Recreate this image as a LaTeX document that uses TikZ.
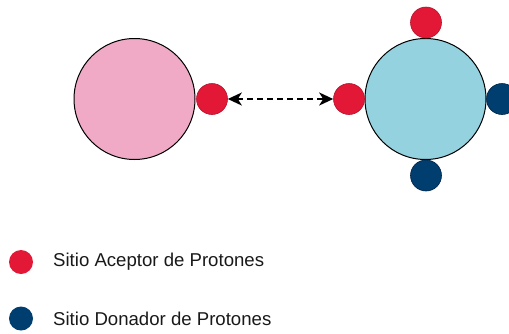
\documentclass[tikz,border=0pt]{standalone}
\usepackage{fontspec}
\setmainfont{Liberation Sans}
\usetikzlibrary{arrows.meta}
\definecolor{pinkc}{RGB}{240,170,198}
\definecolor{bluec}{RGB}{148,210,224}
\definecolor{redc}{RGB}{226,24,54}
\definecolor{redo}{RGB}{180,20,45}
\definecolor{navyc}{RGB}{0,62,112}
\definecolor{navyo}{RGB}{0,35,70}
\tikzset{
  big/.style={circle, draw=black, line width=1pt, minimum size=121pt, inner sep=0pt},
  acc/.style={circle, fill=redc, draw=redo, line width=0.6pt, minimum size=31pt, inner sep=0pt},
  don/.style={circle, fill=navyc, draw=navyo, line width=0.6pt, minimum size=31pt, inner sep=0pt},
  legacc/.style={circle, fill=redc, minimum size=24pt, inner sep=0pt},
  legdon/.style={circle, fill=navyc, minimum size=24pt, inner sep=0pt},
  legtext/.style={anchor=west, inner sep=0pt, font=\fontsize{18.6pt}{22pt}\selectfont, text=black!90},
  link/.style={dash pattern=on 6pt off 4pt, line width=2.2pt, {Stealth[length=14pt,width=13pt,inset=4pt]}-{Stealth[length=14pt,width=13pt,inset=4pt]}}
}
\begin{document}
\begin{tikzpicture}[x=1pt,y=-1pt]
\useasboundingbox (0,0) rectangle (509,333);
\node[big, fill=pinkc] (pink) at (134.5,99) {};
\node[big, fill=bluec] (blue) at (425.5,99) {};
\node[acc] (a1) at (212,99) {};
\node[acc] (a2) at (349,99) {};
\node[acc] (a3) at (426,22.5) {};
\node[don] (d1) at (426,175.5) {};
\node[don] (d2) at (502,99) {};
\draw[link] (a1) -- (a2);
\node[legacc] (la) at (21,262) {};
\node[legtext] (ta) at (53,262) {Sitio Aceptor de Protones};
\node[legdon] (ld) at (21,318.5) {};
\node[legtext] (td) at (53,318.5) {Sitio Donador de Protones};
\end{tikzpicture}
\end{document}
